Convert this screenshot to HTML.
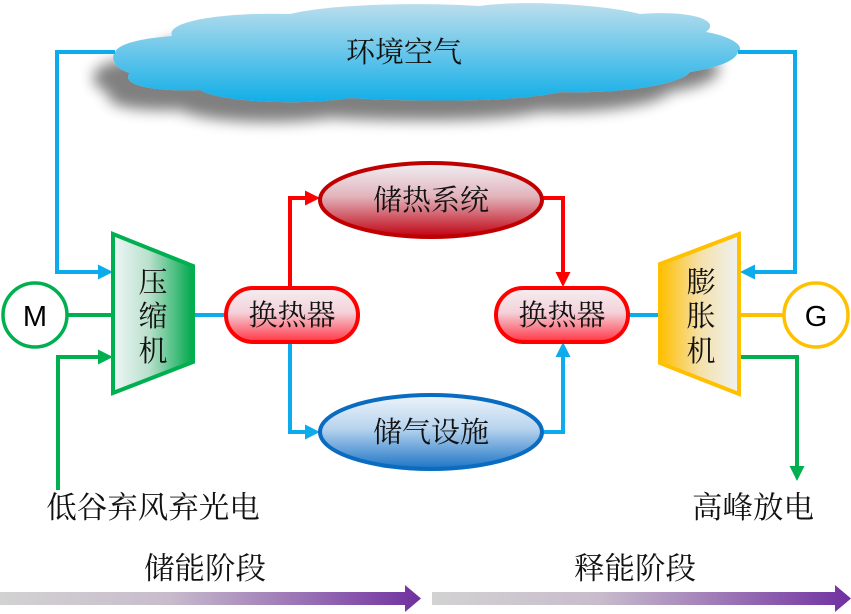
<!DOCTYPE html>
<html><head><meta charset="utf-8"><style>
html,body{margin:0;padding:0;background:#fff;}
svg{display:block;}
.cn{font-family:"Liberation Serif","Noto Serif CJK SC",serif;font-size:29px;fill:#111;}
.cnb{font-family:"Liberation Serif","Noto Serif CJK SC",serif;font-size:30.5px;fill:#111;}
.lat{font-family:"Liberation Sans",sans-serif;font-size:29px;fill:#000;}
</style></head><body>
<svg width="851" height="614" viewBox="0 0 851 614" xmlns="http://www.w3.org/2000/svg">
<defs>
<linearGradient id="cloudG" x1="0" y1="0" x2="0" y2="1">
<stop offset="0" stop-color="#bcdeec"/><stop offset="1" stop-color="#12aee8"/></linearGradient>
<filter id="sh" x="-20%" y="-40%" width="140%" height="200%">
<feGaussianBlur in="SourceAlpha" stdDeviation="7"/>
<feOffset dx="-20" dy="20" result="b"/>
<feComponentTransfer><feFuncA type="linear" slope="0.5"/></feComponentTransfer>
<feMerge><feMergeNode/><feMergeNode in="SourceGraphic"/></feMerge></filter>
<linearGradient id="compG" x1="0" y1="0" x2="1" y2="0">
<stop offset="0" stop-color="#eef6f6"/><stop offset="0.45" stop-color="#b9e0cc"/><stop offset="1" stop-color="#00a84c"/></linearGradient>
<linearGradient id="expG" x1="0" y1="0" x2="1" y2="0">
<stop offset="0" stop-color="#ffbf00"/><stop offset="0.5" stop-color="#f5e0a8"/><stop offset="1" stop-color="#eef2f2"/></linearGradient>
<linearGradient id="hxG" x1="0" y1="0" x2="0" y2="1">
<stop offset="0" stop-color="#f4eef2"/><stop offset="0.45" stop-color="#f4d2da"/><stop offset="1" stop-color="#ff3444"/></linearGradient>
<linearGradient id="heatG" x1="0" y1="0" x2="0" y2="1">
<stop offset="0" stop-color="#f0f0f4"/><stop offset="0.45" stop-color="#e2b4bc"/><stop offset="1" stop-color="#c00010"/></linearGradient>
<linearGradient id="airG" x1="0" y1="0" x2="0" y2="1">
<stop offset="0" stop-color="#eef4fa"/><stop offset="0.45" stop-color="#b8d4ee"/><stop offset="1" stop-color="#1c74c6"/></linearGradient>
<linearGradient id="arrG" x1="0" y1="0" x2="1" y2="0">
<stop offset="0" stop-color="#d2d2d2"/><stop offset="0.4" stop-color="#c8bccc"/><stop offset="1" stop-color="#7030a0"/></linearGradient>
</defs>

<!-- cloud -->
<path filter="url(#sh)" fill="url(#cloudG)" d="M115,52 C120,42 148,38 172,36 C165,20 230,12 290,14 C330,4 420,2 480,6 C520,0 600,4 640,14 C690,10 722,20 706,32 C730,36 746,46 738,52 C735,62 715,68 690,72 C680,85 620,94 560,92 C520,102 420,102 350,98 C300,106 220,102 200,90 C150,92 120,84 130,73 C115,69 110,58 115,52 Z"/>
<text class="cn" x="404" y="62" text-anchor="middle">环境空气</text>

<!-- blue lines -->
<g fill="none" stroke="#0cacec" stroke-width="4">
<polyline points="115,52 57,52 57,272 99,272"/>
<polyline points="738,52 795,52 795,272 754,272"/>
<line x1="193" y1="315" x2="226" y2="315"/>
<line x1="628" y1="315" x2="661" y2="315"/>
<polyline points="290,342 290,432 306,432"/>
<polyline points="543,432 563,432 563,357"/>
</g>
<g fill="#0cacec">
<polygon points="113,272 98,264.5 98,279.5"/>
<polygon points="740,272 755,264.5 755,279.5"/>
<polygon points="320,432 305,424.5 305,439.5"/>
<polygon points="563,342 555.5,357 570.5,357"/>
</g>

<!-- red lines -->
<g fill="none" stroke="#ff0000" stroke-width="4">
<polyline points="290,287 290,198 306,198"/>
<polyline points="543,198 563,198 563,272"/>
</g>
<g fill="#ff0000">
<polygon points="320,198 305,190.5 305,205.5"/>
<polygon points="563,287 555.5,272 570.5,272"/>
</g>

<!-- green lines -->
<g fill="none" stroke="#00b050" stroke-width="4">
<line x1="68" y1="315" x2="113" y2="315"/>
<polyline points="58,490 58,357 99,357"/>
<polyline points="740,357 797,357 797,466"/>
</g>
<g fill="#00b050">
<polygon points="113,357 98,349.5 98,364.5"/>
<polygon points="797,481 789.5,466 804.5,466"/>
</g>

<!-- gold line -->
<line x1="740" y1="315" x2="783" y2="315" stroke="#ffc000" stroke-width="4"/>

<!-- compressor -->
<polygon points="113,234 193,266 193,362 113,393" fill="url(#compG)" stroke="#00b050" stroke-width="4" stroke-linejoin="miter"/>
<text class="cn" x="153" y="292" text-anchor="middle">压</text>
<text class="cn" x="153" y="326" text-anchor="middle">缩</text>
<text class="cn" x="153" y="361" text-anchor="middle">机</text>

<!-- expander -->
<polygon points="660,264 739,234 739,394 660,363" fill="url(#expG)" stroke="#ffc000" stroke-width="4"/>
<text class="cn" x="701" y="292" text-anchor="middle">膨</text>
<text class="cn" x="701" y="326" text-anchor="middle">胀</text>
<text class="cn" x="701" y="361" text-anchor="middle">机</text>

<!-- motor / generator -->
<circle cx="35" cy="315" r="32" fill="#fff" stroke="#00b050" stroke-width="3.5"/>
<text class="lat" x="35" y="326" text-anchor="middle">M</text>
<circle cx="816" cy="315" r="32" fill="#fff" stroke="#ffc000" stroke-width="3.5"/>
<text class="lat" x="816" y="326" text-anchor="middle">G</text>

<!-- heat exchangers -->
<rect x="226" y="288" width="132" height="54" rx="27" ry="27" fill="url(#hxG)" stroke="#ff0000" stroke-width="4"/>
<text class="cn" x="292" y="325" text-anchor="middle">换热器</text>
<rect x="496" y="288" width="132" height="54" rx="27" ry="27" fill="url(#hxG)" stroke="#ff0000" stroke-width="4"/>
<text class="cn" x="562" y="325" text-anchor="middle">换热器</text>

<!-- ellipses -->
<ellipse cx="431" cy="200" rx="111" ry="37" fill="url(#heatG)" stroke="#c00000" stroke-width="4"/>
<text class="cn" x="431" y="210" text-anchor="middle">储热系统</text>
<ellipse cx="431" cy="432" rx="111" ry="37" fill="url(#airG)" stroke="#0a6cc0" stroke-width="4"/>
<text class="cn" x="431" y="442" text-anchor="middle">储气设施</text>

<!-- bottom labels -->
<text class="cnb" x="153" y="518" text-anchor="middle">低谷弃风弃光电</text>
<text class="cnb" x="753" y="518" text-anchor="middle">高峰放电</text>
<text class="cnb" x="205" y="579" text-anchor="middle">储能阶段</text>
<text class="cnb" x="635" y="579" text-anchor="middle">释能阶段</text>

<!-- phase arrows -->
<polygon points="0,592 405,592 405,585 421,598.5 405,612 405,605 0,605" fill="url(#arrG)"/>
<polygon points="432,592 835,592 835,585 851,598.5 835,612 835,605 432,605" fill="url(#arrG)"/>
</svg>
</body></html>
